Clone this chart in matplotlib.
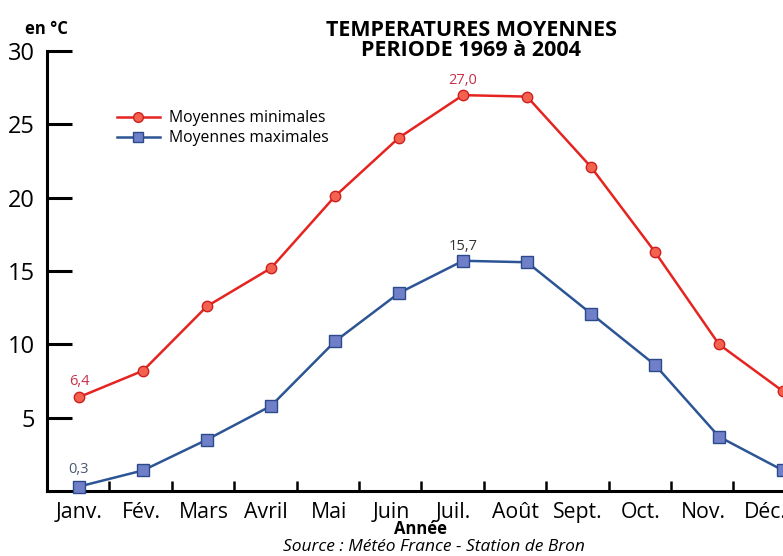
import matplotlib
matplotlib.use("Agg")
import matplotlib.pyplot as plt
import numpy as np
from matplotlib.lines import Line2D

# Monthly averages, Bron station 1969-2004 (°C)
months = ["Janv.", "Fév.", "Mars", "Avril", "Mai", "Juin",
          "Juil.", "Août", "Sept.", "Oct.", "Nov.", "Déc."]
moy_min = [6.4, 8.2, 12.6, 15.2, 20.1, 24.1, 27.0, 26.9, 22.1, 16.3, 10.0, 6.8]
moy_max = [0.3, 1.4, 3.5, 5.8, 10.2, 13.5, 15.7, 15.6, 12.1, 8.6, 3.7, 1.4]
y_ticks = [5, 10, 15, 20, 25, 30]

plt.rcParams['font.family'] = ['Open Sans', 'DejaVu Sans']

fig = plt.figure(figsize=(7.83, 5.56), dpi=100)
ax = fig.add_axes([0.060, 0.117, 0.940, 0.791])

x = np.arange(len(months))
red_line, red_face, red_edge = "#e52420", "#f2624e", "#cf1f1f"
blue_line, blue_face, blue_edge = "#2c5595", "#6f80c9", "#2c4a8a"

ax.plot(x, moy_min, color=red_line, lw=1.8, marker="o", ms=7.5,
        mfc=red_face, mec=red_edge, mew=1.0, clip_on=False, zorder=3)
ax.plot(x, moy_max, color=blue_line, lw=1.8, marker="s", ms=8.7,
        mfc=blue_face, mec=blue_edge, mew=1.0, clip_on=False, zorder=3)

# value labels
ax.annotate("6,4", (x[0], moy_min[0]), xytext=(0, 6), textcoords="offset points",
            ha="center", va="bottom", fontsize=10.5, color="#c8304a")
ax.annotate("27,0", (x[6], moy_min[6]), xytext=(0, 5), textcoords="offset points",
            ha="center", va="bottom", fontsize=10.5, color="#c8304a")
ax.annotate("0,3", (x[0], moy_max[0]), xytext=(0, 7), textcoords="offset points",
            ha="center", va="bottom", fontsize=10.5, color="#4a5870")
ax.annotate("15,7", (x[6], moy_max[6]), xytext=(0, 5), textcoords="offset points",
            ha="center", va="bottom", fontsize=10.5, color="#333333")

# axes styling
ax.set_xlim(-0.5, 11.0)
ax.set_ylim(0, 30)
for s in ("top", "right"):
    ax.spines[s].set_visible(False)
ax.spines["left"].set_linewidth(2.2)
ax.spines["bottom"].set_linewidth(2.2)

ax.set_yticks(y_ticks)
ax.set_yticklabels([str(v) for v in y_ticks], fontsize=17)
ax.tick_params(axis="y", direction="in", length=18, width=2.2, pad=8.5)

step = 62.4 / 64.0
ax.set_xticks([-0.5 + step * k for k in range(1, 12)])
ax.set_xticklabels([])
ax.tick_params(axis="x", direction="in", length=7, width=1.8)
for i, m in enumerate(months):
    ax.text(step * i, -0.75, m, ha="center", va="top", fontsize=15.3,
            transform=ax.transData, clip_on=False)

# legend
handles = [
    Line2D([], [], color=red_line, lw=1.8, marker="o", ms=7, mfc=red_face, mec=red_edge),
    Line2D([], [], color=blue_line, lw=1.8, marker="s", ms=7.5, mfc=blue_face, mec=blue_edge),
]
ax.legend(handles, ["Moyennes minimales", "Moyennes maximales"],
          loc="upper left", bbox_to_anchor=(0.095, 0.866), frameon=False,
          fontsize=11.3, handlelength=2.75, handletextpad=0.6, labelspacing=0.25,
          borderaxespad=0, borderpad=0)

# texts
fig.text(25 / 783, 1 - 29 / 556, "en °C", ha="left", va="center",
         fontsize=12, fontweight="bold")
fig.text(471 / 783, 1 - 40.5 / 556, "TEMPERATURES MOYENNES\nPERIODE 1969 à 2004",
         ha="center", va="center", fontsize=15.5, fontweight="bold", linespacing=1.0)
fig.text(420 / 783, 1 - 529 / 556, "Année", ha="center", va="center",
         fontsize=12, fontweight="bold")
fig.text(434 / 783, 1 - 547 / 556, "Source : Météo France - Station de Bron",
         ha="center", va="center", fontsize=12.5, style="italic")

fig.savefig("out.png", dpi=100)
